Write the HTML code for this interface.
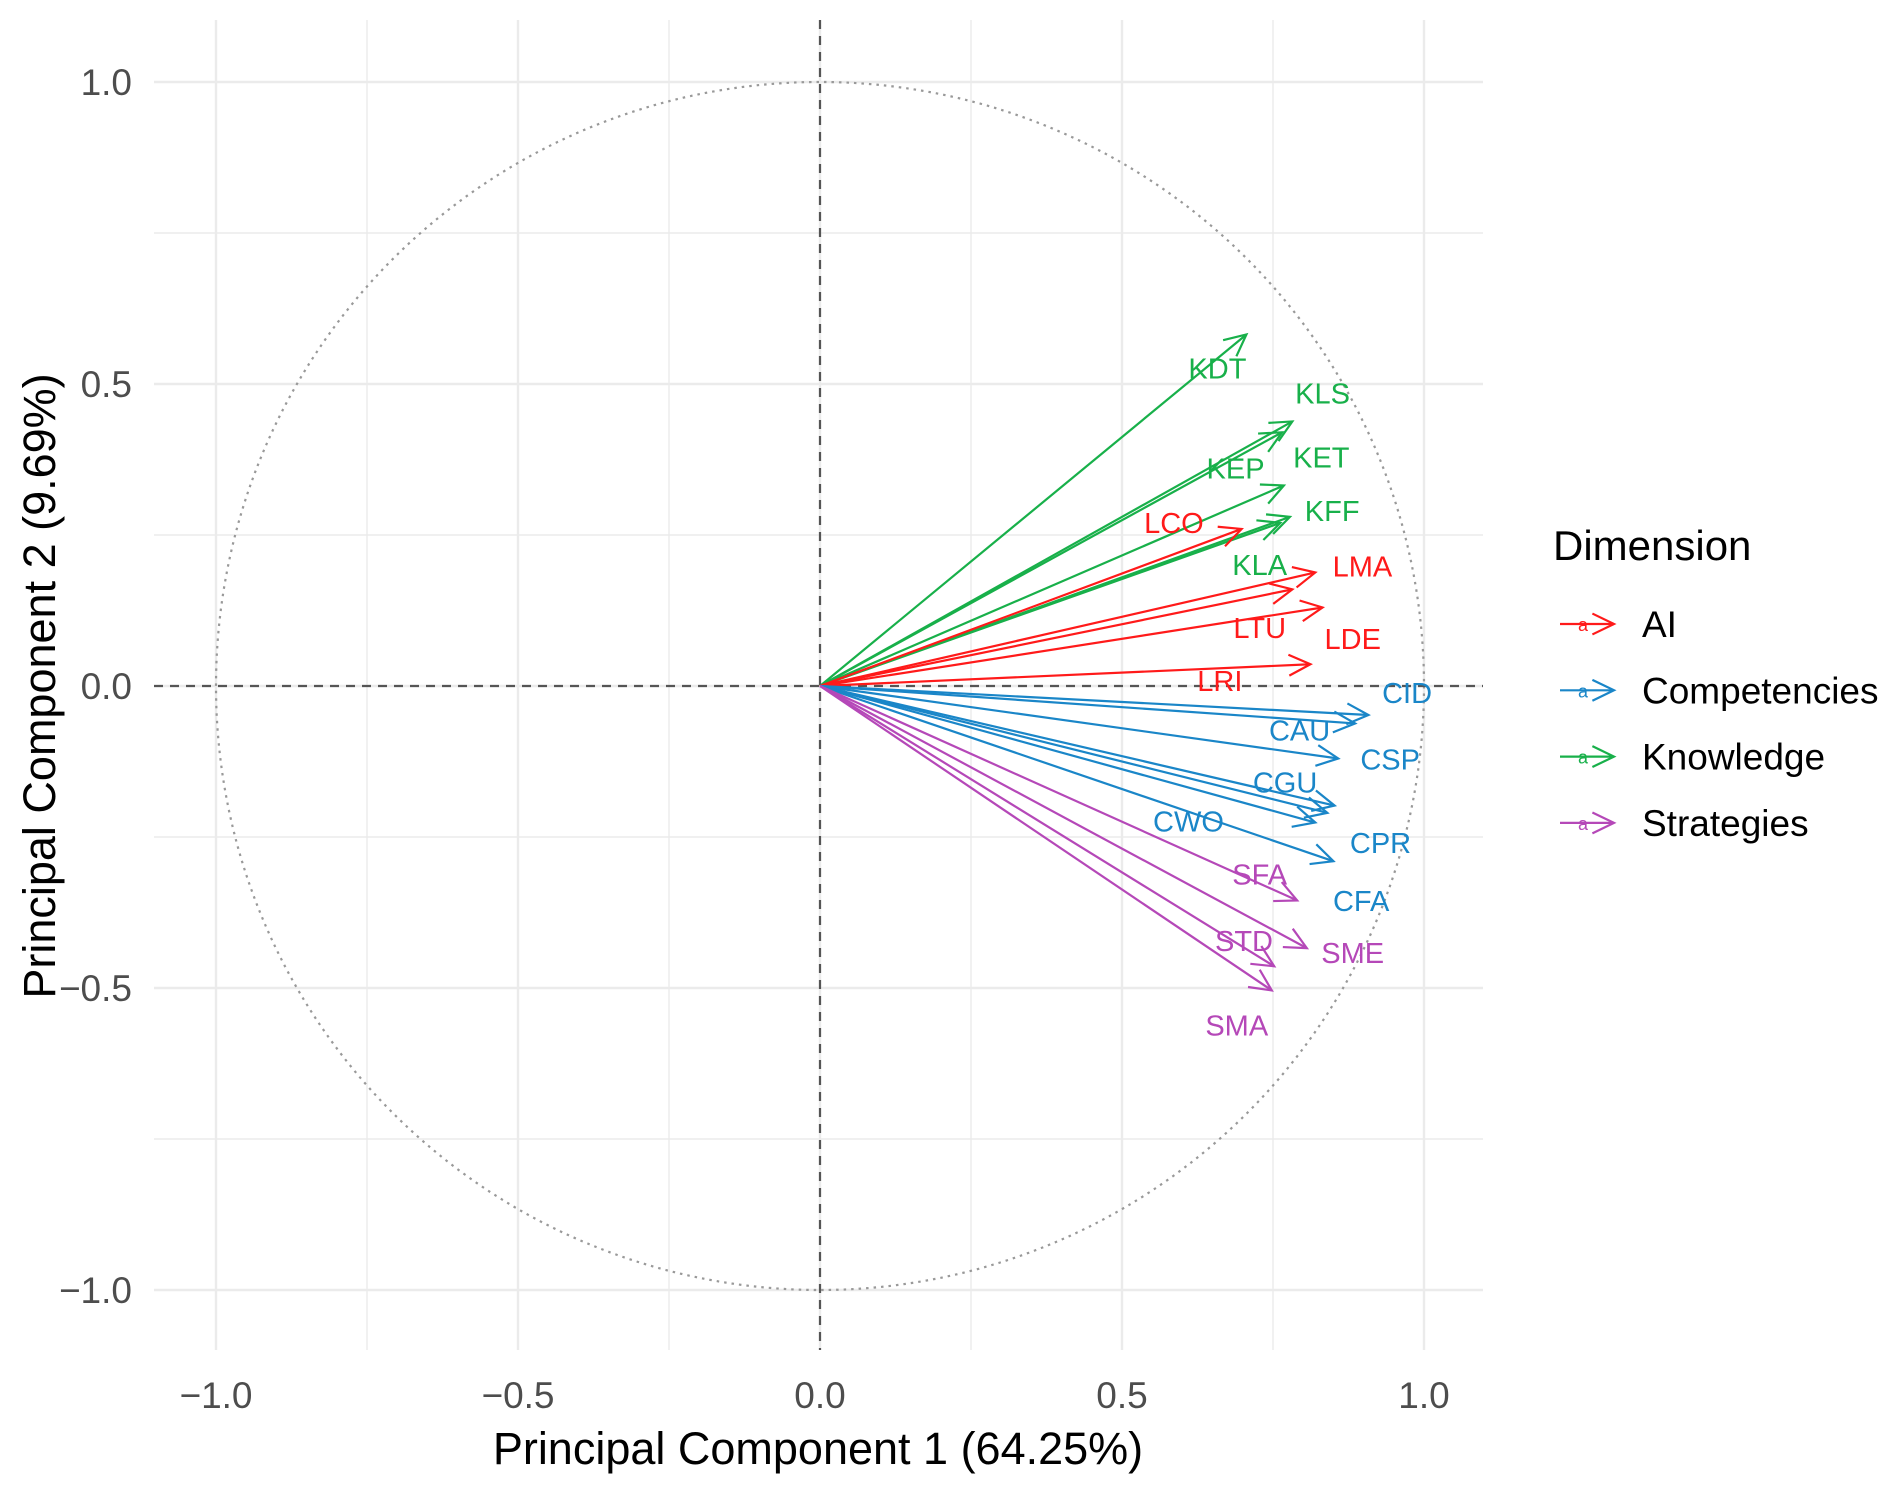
<!DOCTYPE html>
<html><head><meta charset="utf-8"><style>
html,body{margin:0;padding:0;background:#fff;}
svg{display:block;font-family:"Liberation Sans",Arial,sans-serif;}
</style></head><body>
<svg id="chart" width="1893" height="1490" viewBox="0 0 1893 1490">
<g id="grid"></g>
<g id="refs"></g>
<g id="arrows"></g>
<g id="labels"></g>
<g id="axes"></g>
<g id="legend"></g>
</svg>
<script>
const names=["KDT","KLS","KEP","KET","KFF","KLA","LCO","LMA","LTU","LDE","LRI","CID","CAU","CSP","CGU","CFA","CWO","CPR","SFA","SME","STD","SMA"];
const groups=["Knowledge","Knowledge","Knowledge","Knowledge","Knowledge","Knowledge","AI","AI","AI","AI","AI","Competencies","Competencies","Competencies","Competencies","Competencies","Competencies","Competencies","Strategies","Strategies","Strategies","Strategies"];
const pc1=[0.706,0.782,0.765,0.768,0.778,0.762,0.698,0.82,0.782,0.832,0.812,0.908,0.886,0.858,0.852,0.84,0.82,0.85,0.79,0.806,0.752,0.748];
const pc2=[0.582,0.438,0.42,0.332,0.28,0.27,0.26,0.188,0.16,0.13,0.036,-0.048,-0.062,-0.12,-0.198,-0.21,-0.226,-0.29,-0.355,-0.434,-0.464,-0.504];
const labelX=[0.658,0.832,0.688,0.83,0.848,0.728,0.586,0.898,0.728,0.882,0.662,0.972,0.794,0.944,0.77,0.896,0.61,0.928,0.728,0.882,0.702,0.69];
const labelY=[0.526,0.484,0.36,0.378,0.29,0.2,0.27,0.198,0.096,0.078,0.008,-0.012,-0.074,-0.122,-0.16,-0.356,-0.224,-0.26,-0.312,-0.442,-0.422,-0.562];
const legendGroups=["AI","Competencies","Knowledge","Strategies"];
const ticks=[-1,-0.5,0,0.5,1];
const tickLabels=["\u22121.0","\u22120.5","0.0","0.5","1.0"];
const minorTicks=[-0.75,-0.25,0.25,0.75];
const colors={"AI":"#ff1a1a","Competencies":"#1a86c8","Knowledge":"#18b04a","Strategies":"#b548b8"};

const X0=820,Y0=686,U=604;
const sx=v=>X0+v*U, sy=v=>Y0-v*U;
const NS="http://www.w3.org/2000/svg";
function mk(tag,attrs,parent,text){const e=document.createElementNS(NS,tag);for(const k in attrs)e.setAttribute(k,attrs[k]);if(text!==undefined)e.textContent=text;parent.appendChild(e);return e;}
const PL=154,PR=1483,PT=20,PB=1350;
const grid=document.getElementById('grid');
ticks.concat(minorTicks).forEach(t=>{
  const major=ticks.includes(t);
  const v=mk('line',{x1:sx(t),x2:sx(t),y1:PT,y2:PB,stroke:'#ebebeb','stroke-width':major?2.4:1.4},grid);
  
  
  const h=mk('line',{x1:PL,x2:PR,y1:sy(t),y2:sy(t),stroke:'#ebebeb','stroke-width':major?2.4:1.4},grid);
  
  
});
const refs=document.getElementById('refs');
const circ=mk('circle',{cx:sx(0),cy:sy(0),r:U,fill:'none',stroke:'#999','stroke-width':2.2,'stroke-dasharray':'2.5 5'},refs);


const vl=mk('line',{x1:sx(0),x2:sx(0),y1:PT,y2:PB,stroke:'#555','stroke-width':2.2,'stroke-dasharray':'9 7'},refs);


const hl=mk('line',{x1:PL,x2:PR,y1:sy(0),y2:sy(0),stroke:'#555','stroke-width':2.2,'stroke-dasharray':'9 7'},refs);



function arrow(parent,x1,y1,x2,y2,col,w){
  const g=mk('g',{},parent);
  mk('line',{x1:x1,y1:y1,x2:x2,y2:y2,stroke:col,'stroke-width':w},g);
  const a=Math.atan2(y2-y1,x2-x1),L=24,sp=0.45;
  const p1=[x2-L*Math.cos(a-sp),y2-L*Math.sin(a-sp)],p2=[x2-L*Math.cos(a+sp),y2-L*Math.sin(a+sp)];
  mk('polyline',{points:`${p1} ${x2},${y2} ${p2}`,fill:'none',stroke:col,'stroke-width':w},g);
  return g;
}
const arrows=document.getElementById('arrows'),labels=document.getElementById('labels');
names.forEach((n,i)=>{
  const c=colors[groups[i]];
  const g=arrow(arrows,sx(0),sy(0),sx(pc1[i]),sy(pc2[i]),c,2.2);
  
  
  const t=mk('text',{x:sx(labelX[i]),y:sy(labelY[i])+10,fill:c,'font-size':29,'text-anchor':'middle'},labels,n);
  
  
});
const axes=document.getElementById('axes');
ticks.forEach((t,i)=>{
  const a=mk('text',{x:sx(t),y:1408,fill:'#4d4d4d','font-size':37,'text-anchor':'middle'},axes,tickLabels[i]);
  
  
  const b=mk('text',{x:132,y:sy(t)+13,fill:'#4d4d4d','font-size':37,'text-anchor':'end'},axes,tickLabels[i]);
  
  
});
const xt=mk('text',{x:818,y:1464,fill:'#000','font-size':45,'text-anchor':'middle'},axes,'Principal Component 1 (64.25%)');


const yt=mk('text',{x:55,y:686,fill:'#000','font-size':45,'text-anchor':'middle',transform:'rotate(-90 55 686)'},axes,'Principal Component 2 (9.69%)');


const leg=document.getElementById('legend');
const lt=mk('text',{x:1553,y:560,fill:'#000','font-size':42},leg,'Dimension');


legendGroups.forEach((gname,i)=>{
  const y=624+i*66.3;
  const g=mk('g',{},leg);
  
  
  arrow(g,1560,y,1614,y,colors[gname],2.2);
  mk('text',{x:1578,y:y+7,fill:colors[gname],'font-size':18},g,'a');
  mk('text',{x:1642,y:y+13,fill:'#000','font-size':37},g,gname);
});
</script>
</body></html>
